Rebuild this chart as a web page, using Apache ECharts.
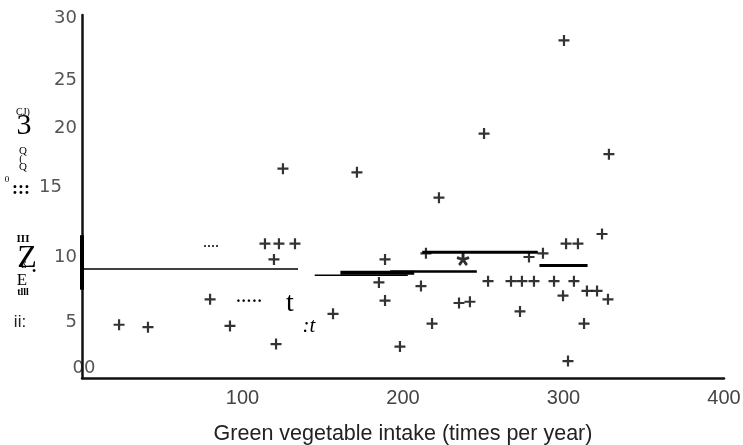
<!DOCTYPE html>
<html><head><meta charset="utf-8">
<script src="https://cdn.jsdelivr.net/npm/echarts@6/dist/echarts.min.js"></script>
<style>html,body{margin:0;padding:0;background:#fff}#c{width:743px;height:445px}</style>
</head><body><div id="c"></div>
<script>
// Scatter points: green vegetable intake (x) vs y value
const intake = [23.1,41.1,79.8,92.2,120.9,119.6,114.0,122.7,132.7,125.2,156.4,171.3,188.8,185.0,188.8,211.2,214.3,218.1,198.1,222.4,234.9,241.7,250.5,253.0,267.3,274.1,281.6,272.9,278.5,287.2,294.1,299.7,301.6,309.0,306.5,314.6,320.9,327.7,312.8,302.8,324.0,300.3,328.3];
const values = [4.4,4.2,6.5,4.3,2.8,9.8,11.1,11.1,11.1,17.3,5.3,17.0,9.8,7.9,6.4,7.6,10.3,4.5,2.6,14.9,6.2,6.3,20.2,8.0,8.0,8.0,8.0,5.5,10.0,10.3,8.0,6.8,11.1,11.1,8.0,7.2,7.2,6.5,4.5,1.4,11.9,27.9,18.5];
// Asterisk-marked point
const starX = [237.4];
const starY = [9.8];
// Horizontal mean segments: start x, end x, level, weight
const segStart = [0, 145, 161, 192, 212, 285];
const segEnd   = [134.6, 203, 207, 246, 284, 315];
const segLevel = [9.0, 8.5, 8.7, 8.8, 10.4, 9.3];
const segWidth = [1.5, 1.5, 4, 2.5, 3, 3];
// Axis ticks
const yTicks = [5, 10, 15, 20, 25, 30];
const xTicks = [100, 200, 300, 400];

const chart = echarts.init(document.getElementById('c'));
const plus = 'path://M4,0H6V4H10V6H6V10H4V6H0V4H4Z';
const ast = 'path://M4.1,0H5.9V3.9L9.5,2.6L10,4.3L6.4,5.4L8.7,8.7L7.3,9.7L5,6.5L2.7,9.7L1.3,8.7L3.6,5.4L0,4.3L0.5,2.6L4.1,3.9Z';

const series = [{
  type:'scatter', symbol: plus, symbolSize: 11,
  itemStyle:{color:'#000'},
  data: intake.map((x,i)=>[x, values[i]]), z:5
},{
  type:'scatter', symbol: ast, symbolSize: 12,
  itemStyle:{color:'#000', borderColor:'#000', borderWidth:0.8},
  data: starX.map((x,i)=>[x, starY[i]]), z:5
},{
  type:'line', showSymbol:false, silent:true,
  lineStyle:{color:'#000', width:4},
  data:[[0,7.3],[0,11.8]], z:6
}];
segStart.forEach((s,i)=>{
  series.push({type:'line', showSymbol:false, silent:true,
    lineStyle:{color:'#000', width:segWidth[i]},
    data:[[s, segLevel[i]],[segEnd[i], segLevel[i]]], z:4});
});

const yRich = {
  5:{padding:[10,0,0,0]}, 10:{padding:[0,0,0,0]}, 15:{padding:[0,15,18,0]},
  20:{padding:[0,0,16,0]}, 25:{padding:[10,0,0,0]}, 30:{padding:[6,0,0,0]}
};
const richStyle = {};
yTicks.forEach(t=>{ richStyle['t'+t] = Object.assign({fontFamily:'DejaVu Sans', fontSize:18, color:'#555'}, yRich[t]); });

const txt = (x,y,s,size,font,extra)=>Object.assign({type:'text', x, y, style:Object.assign({text:s, fontSize:size, fontFamily:font||'Liberation Serif', fill:'#000', textAlign:'center', textVerticalAlign:'middle'}, extra||{})});

chart.setOption({
  animation:false,
  grid:{left:82, right:19, top:15, bottom:67, containLabel:false, outerBoundsMode:'none'},
  xAxis:{type:'value', min:0, max:400, interval:100,
    name:'Green vegetable intake (times per year)', nameLocation:'middle', nameGap:45,
    nameTextStyle:{fontFamily:'Liberation Sans', fontSize:21.5, color:'#222'},
    axisLine:{lineStyle:{color:'#111', width:2.5}}, axisTick:{show:false}, splitLine:{show:false},
    axisLabel:{fontFamily:'Liberation Sans', fontSize:20, color:'#444', margin:10,
      formatter:v=> xTicks.includes(v) ? String(v) : ''}
  },
  yAxis:{type:'value', min:0, max:30, interval:5,
    axisLine:{show:true, lineStyle:{color:'#111', width:2.5}}, axisTick:{show:false}, splitLine:{show:false},
    axisLabel:{margin:5, formatter:v=> yTicks.includes(v) ? '{t'+v+'|'+v+'}' : '', rich:richStyle}
  },
  graphic:[
    txt(84,368,'00',18,'DejaVu Sans',{fill:'#555'}),
    txt(23,112,'CJ)',10),
    txt(24,126,'3',30,'Liberation Serif'),
    txt(23,151,'Q',11),
    txt(21,159,'(',11),
    txt(23,167,'Q',11),
    txt(7,180,'0',9),
    txt(21,189,':::',18,'Liberation Serif',{fontWeight:'bold'}),
    txt(23,239,'III',11,'Liberation Serif',{fontWeight:'bold'}),
    txt(27,259,'Z',32),
    txt(24,265,'ß',10),
    txt(22,281,'E',17),
    txt(34,272,'•',12),
    txt(23,292,'tlll',10,'Liberation Serif',{fontWeight:'bold'}),
    txt(20,322,'ii:',17,'Liberation Sans',{fill:'#222'}),
    txt(211,247,'····',12,'Liberation Serif',{fontWeight:'bold'}),
    txt(249,302,'·····',16,'Liberation Serif',{fontWeight:'bold'}),
    txt(290,304,'t',28),
    txt(309,326,':t',21,'Liberation Serif',{fontStyle:'italic'})
  ],
  series
});
</script></body></html>
